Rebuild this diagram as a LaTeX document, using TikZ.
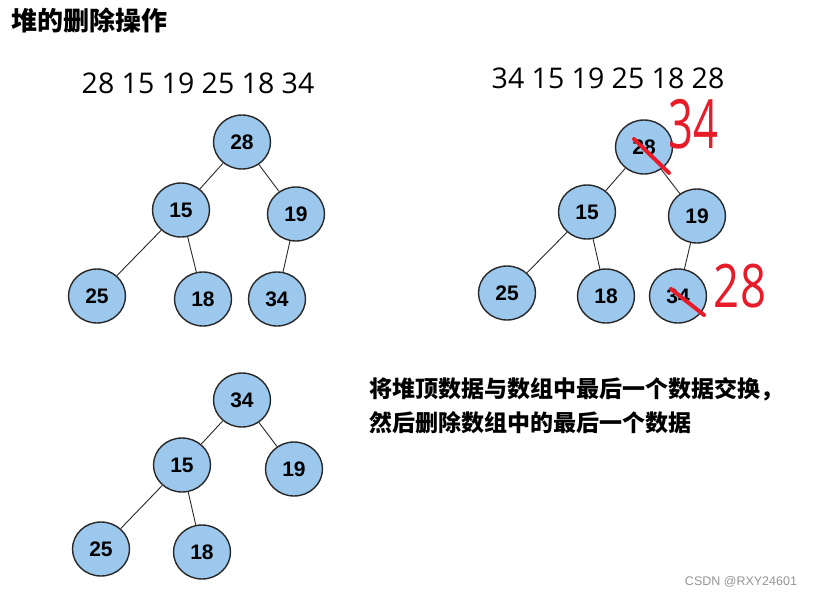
\documentclass[tikz,border=0pt]{standalone}
\usepackage{fontspec}
\setmainfont{Liberation Sans}
\newfontfamily\cjk{Noto Sans CJK SC}
\newfontfamily\hand{Open Sans}
\usetikzlibrary{shapes.geometric}
\definecolor{nodefill}{RGB}{156,200,238}
\definecolor{redmark}{RGB}{232,28,40}
\definecolor{edgecol}{RGB}{40,40,40}
\begin{document}
\begin{tikzpicture}[x=1pt,y=-1pt,
  hnode/.style={ellipse,draw=edgecol,line width=1.4pt,fill=nodefill,
    minimum width=57pt,minimum height=54pt,inner sep=0pt,
    font=\fontsize{21}{21}\selectfont\bfseries},
  hedge/.style={draw=edgecol,line width=0.9pt},
  seq/.style={font=\hand\fontsize{28.5}{28.5}\selectfont,inner sep=0pt},
  cjktext/.style={font=\cjk\bfseries\fontsize{23}{34}\selectfont,inner sep=0pt,anchor=west},
  redtext/.style={text=redmark,draw=redmark,inner sep=0pt},
  strike/.style={draw=redmark,line width=4pt,line cap=round}]
\useasboundingbox (0,0) rectangle (815,598);

% title
\node[font=\cjk\bfseries\fontsize{26}{26}\selectfont,inner sep=0pt] (title) at (90,21) {堆的删除操作};

% sequences
\node[seq] (seq1) at (198,83) {28 15 19 25 18 34};
\node[seq] (seq2) at (608,78) {34 15 19 25 18 28};

% tree 1
\node[hnode] (a28) at (242,142) {28};
\node[hnode] (a15) at (181,210) {15};
\node[hnode] (a19) at (296,214) {19};
\node[hnode] (a25) at (97,296) {25};
\node[hnode] (a18) at (203,299) {18};
\node[hnode] (a34) at (277,299) {34};
\draw[hedge] (a28) -- (a15);
\draw[hedge] (a28) -- (a19);
\draw[hedge] (a15) -- (a25);
\draw[hedge] (a15) -- (a18);
\draw[hedge] (a19) -- (a34);

% tree 2
\node[hnode] (b28) at (644,147) {28};
\node[hnode] (b15) at (587,212) {15};
\node[hnode] (b19) at (697,216) {19};
\node[hnode] (b25) at (507,293) {25};
\node[hnode] (b18) at (606,296) {18};
\node[hnode] (b34) at (678,296) {34};
\draw[hedge] (b28) -- (b15);
\draw[hedge] (b28) -- (b19);
\draw[hedge] (b15) -- (b25);
\draw[hedge] (b15) -- (b18);
\draw[hedge] (b19) -- (b34);

% red annotations
\coordinate (s1a) at (634,139);
\coordinate (s1b) at (669,173);
\coordinate (s2a) at (671,289);
\coordinate (s2b) at (704,315);
\draw[strike] (s1a) -- (s1b);
\draw[strike] (s2a) -- (s2b);
\node[text=redmark,inner sep=0pt,font=\hand\fontsize{68}{68}\selectfont,xscale=0.64] (r34) at (693,124) {34};
\node[text=redmark,inner sep=0pt,font=\hand\fontsize{60}{60}\selectfont,xscale=0.76] (r28) at (740,286) {28};

% tree 3
\node[hnode] (c34) at (242,400) {34};
\node[hnode] (c15) at (182,465) {15};
\node[hnode] (c19) at (294,469) {19};
\node[hnode] (c25) at (101,549) {25};
\node[hnode] (c18) at (202,552) {18};
\draw[hedge] (c34) -- (c15);
\draw[hedge] (c34) -- (c19);
\draw[hedge] (c15) -- (c25);
\draw[hedge] (c15) -- (c18);

% explanation
\node[cjktext] (line1) at (369,389) {将堆顶数据与数组中最后一个数据交换，};
\node[cjktext] (line2) at (369,423) {然后删除数组中的最后一个数据};

% watermark
\node[font=\fontsize{12.5}{12.5}\selectfont,text=black!42,inner sep=0pt] (wm) at (741,582) {CSDN @RXY24601};
\end{tikzpicture}
\end{document}
